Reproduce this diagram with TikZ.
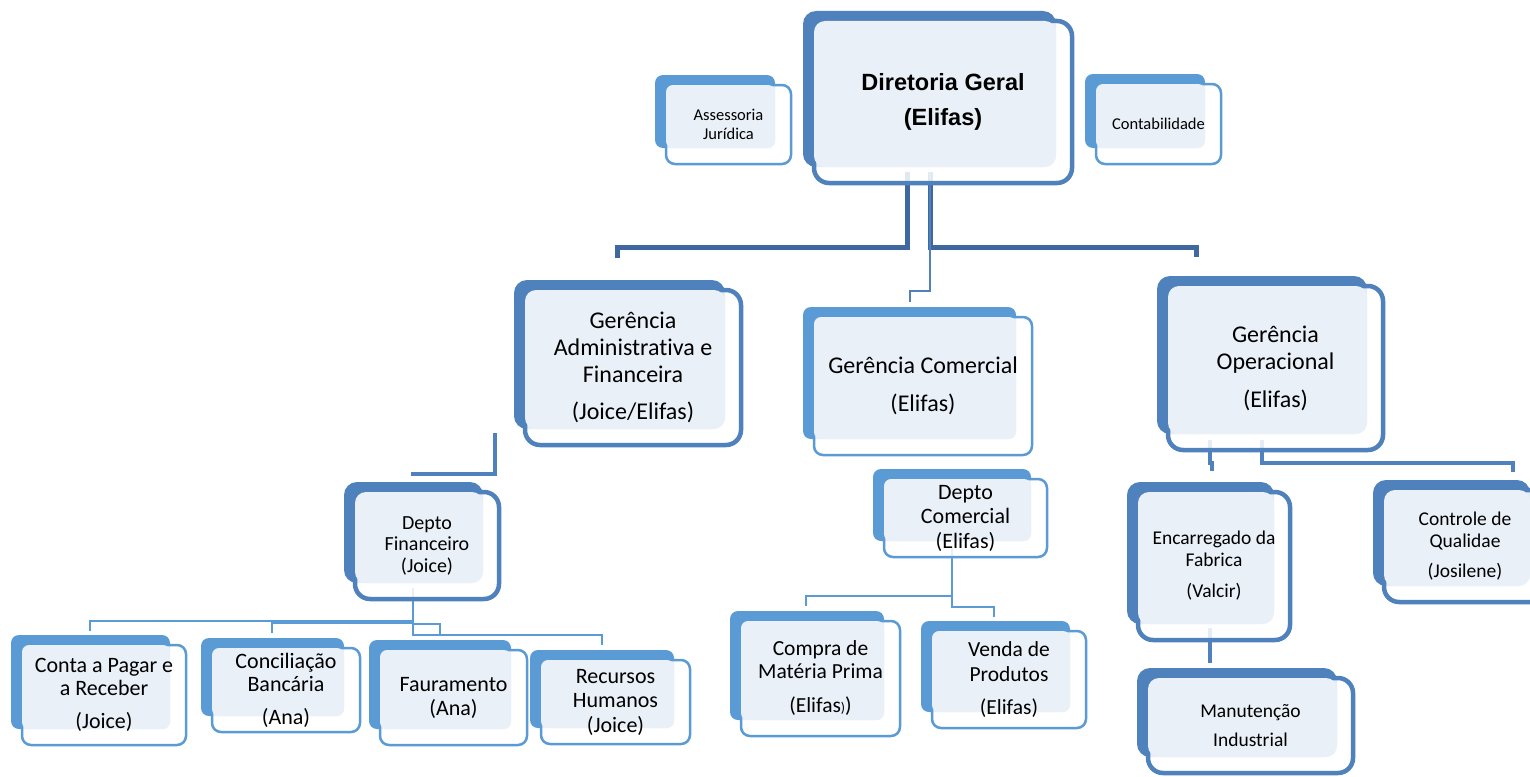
\documentclass[tikz,border=0pt]{standalone}
\usepackage{fontspec}
\setmainfont{Carlito}[Ligatures=NoCommon]
\newfontfamily\arialfont{Liberation Sans}
\usepackage{xcolor}
\usetikzlibrary{calc}
\definecolor{boxblue}{RGB}{79,129,189}
\definecolor{boxsky}{RGB}{91,155,213}
\definecolor{boxlight}{RGB}{234,240,248}
\definecolor{linkblue}{RGB}{64,104,160}
\pgfdeclarelayer{links}
\pgfsetlayers{links,main}
\newcommand{\orgbox}[8]{%
    \fill[#2_back] (#3-11,#4-10) rectangle (#5-16,#6-16);
    \filldraw[#2_front] (#3,#4) rectangle (#5,#6);
    \fill[#2_fill] (#3,#4) rectangle (#5-16,#6-16);
    \node[box_label, font=#7, minimum width={#5-#3}, minimum height={#6-#4}] (#1) at ({(#3+#5)/2},{(#4+#6)/2}) {#8};
}

\begin{document}
\begin{tikzpicture}[
    x=1pt, y=-1pt,
    dark_back/.style={fill=boxblue, rounded corners=13pt},
    light_back/.style={fill=boxsky, rounded corners=8pt},
    dark_front/.style={draw=boxblue, line width=4.5pt, fill=white, fill opacity=0.85, rounded corners=15pt},
    light_front/.style={draw=boxsky, line width=2.5pt, fill=white, fill opacity=0.85, rounded corners=9pt},
    dark_fill/.style={fill=boxlight, rounded corners=11pt},
    light_fill/.style={fill=boxlight, rounded corners=7pt},
    box_label/.style={rectangle, inner sep=0pt, align=center, text=black},
    top_link/.style={draw=linkblue, line width=5pt},
    dark_link/.style={draw=boxblue, line width=4pt},
    thin_link/.style={draw=boxblue, line width=2.5pt},
    light_link/.style={draw=boxsky, line width=2.3pt}
]
    \useasboundingbox (0,0) rectangle (1530,776);
    % top level
    \orgbox{dg}{dark}{814}{21}{1072}{183}{\arialfont\bfseries\fontsize{23.5}{35}\selectfont}{Diretoria Geral\\(Elifas)}
    \orgbox{aj}{light}{666}{85}{791}{164}{\fontsize{16.5}{19}\selectfont}{Assessoria\\Jurídica}
    \orgbox{cont}{light}{1096}{84}{1221}{164}{\fontsize{16.5}{19}\selectfont}{Contabilidade}
    % managers
    \orgbox{ga}{dark}{525}{290}{741}{445}{\fontsize{24}{27}\selectfont}{Gerência\\Administrativa e\\Financeira\\[10pt](Joice/Elifas)}
    \orgbox{gc}{light}{814}{317}{1032}{455}{\fontsize{24}{27}\selectfont}{Gerência Comercial\\[11pt](Elifas)}
    \orgbox{go}{dark}{1168}{286}{1383}{450}{\fontsize{24}{27}\selectfont}{Gerência\\Operacional\\[11pt](Elifas)}
    % departments
    \orgbox{dfin}{dark}{355}{492}{499}{599}{\fontsize{20}{21.5}\selectfont}{Depto\\Financeiro\\(Joice)}
    \orgbox{dcom}{light}{884}{479}{1047}{557}{\fontsize{22}{24.5}\selectfont}{Depto\\Comercial\\(Elifas)}
    \orgbox{enc}{dark}{1138}{492}{1290}{640}{\fontsize{19.5}{22}\selectfont}{Encarregado da\\Fabrica\\[9pt](Valcir)}
    \orgbox{ctrl}{dark}{1384}{490}{1546}{602}{\fontsize{19.5}{22}\selectfont}{Controle de\\Qualidae\\[8pt](Josilene)}
    \orgbox{man}{dark}{1148}{678}{1353}{773}{\fontsize{19.5}{22}\selectfont}{Manutenção\\[7pt]Industrial}
    % sections
    \orgbox{conta}{light}{22}{645}{186}{745}{\fontsize{22}{23}\selectfont}{Conta a Pagar e\\a Receber\\[10pt](Joice)}
    \orgbox{conc}{light}{212}{648}{360}{732}{\fontsize{22}{23}\selectfont}{Conciliação\\Bancária\\[10pt](Ana)}
    \orgbox{fat}{light}{380}{650}{527}{745}{\fontsize{22}{24}\selectfont}{Fauramento\\(Ana)}
    \orgbox{rh}{light}{541}{660}{690}{744}{\fontsize{22}{24.5}\selectfont}{Recursos\\Humanos\\(Joice)}
    \orgbox{compra}{light}{741}{621}{900}{736}{\fontsize{21.5}{23}\selectfont}{Compra de\\Matéria Prima\\[11pt](Elifas{\fontsize{14}{14}\selectfont)})}
    \orgbox{venda}{light}{932}{631}{1086}{728}{\fontsize{21.5}{25}\selectfont}{Venda de\\Produtos\\[8pt](Elifas)}

    \begin{pgfonlayer}{links}
        \fill[white] (0,0) rectangle (1530,776);
        \draw[top_link] ($(dg.south)+(-36,-11)$) |- ($(ga.north)+(-16,-42)$) -- ++(0,10);
        \draw[top_link] ($(dg.south)+(-13,-11)$) |- ($(go.north)+(-79.5,-38)$) -- ++(0,9);
        \draw[thin_link] ($(dg.south)+(-13,-11)$) -- ($(gc.north)+(7,-26)$) -| ($(gc.north)+(-13,-15)$);
        \draw[dark_link] ($(ga.south west)+(-30,-12)$) |- ($(dfin.north)+(-16,-18)$);
        \foreach \kid/\dx/\dy in {conta/-14/-24, conc/-14/-25, fat/-13.5/-26, rh/-13.5/-25}
            \draw[light_link] ($(dfin.south)+(-14,-11)$) |- ($(\kid.north)+(\dx,\dy)$) -- ++(0,10);
        \draw[light_link] ($(dcom.south)+(-13.5,-11)$) |- ($(compra.north)+(-14.5,-25)$) -- ++(0,10);
        \draw[light_link] ($(dcom.south)+(-13.5,-11)$) |- ($(venda.north)+(-15,-24)$) -- ++(0,10);
        \draw[dark_link] ($(go.south)+(-65.5,-10)$) -- ++(0,23) -| ($(enc.north)+(-2,-21)$);
        \draw[dark_link] ($(go.south)+(-13.5,-10)$) |- ($(ctrl.north)+(48,-27)$) -- ++(0,9);
        \draw[dark_link] ($(enc.south)+(-4,-12)$) -- ($(man.north)+(-40.5,-15)$);
    \end{pgfonlayer}
\end{tikzpicture}
\end{document}
